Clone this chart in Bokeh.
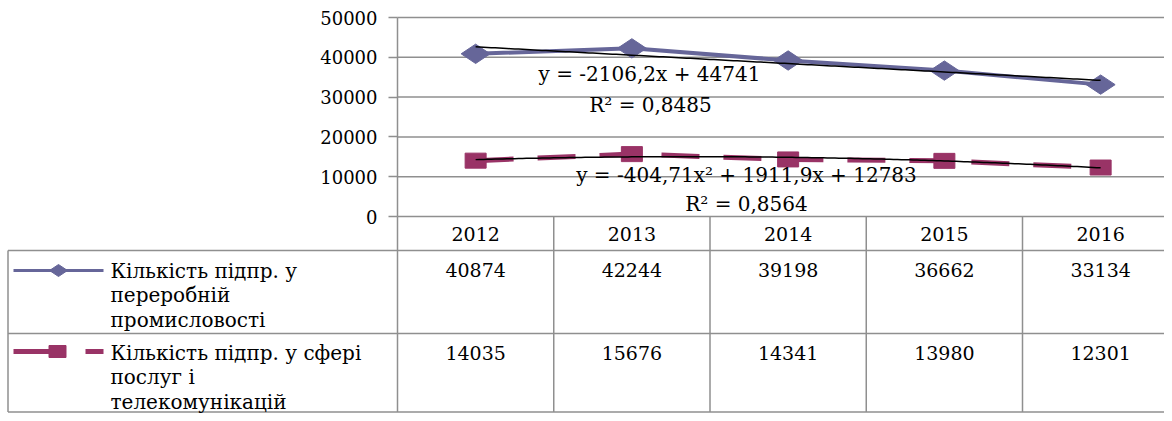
import numpy as np
from bokeh.plotting import figure
from bokeh.models import Range1d, LinearAxis, FixedTicker, NumeralTickFormatter
from bokeh.core.properties import value
from bokeh.embed import file_html
from bokeh.resources import INLINE

# ---------------- data ----------------
years = ["2012", "2013", "2014", "2015", "2016"]
manufacturing = [40874, 42244, 39198, 36662, 33134]
services = [14035, 15676, 14341, 13980, 12301]
series_labels = [
    "Кількість підпр. у\nпереробній\nпромисловості",
    "Кількість підпр. у сфері\nпослуг і\nтелекомунікацій",
]
y_ticks = [0, 10000, 20000, 30000, 40000, 50000]
linear_trend_coef = [-2106.2, 44741]          # y = a*x + b
poly_trend_coef = [-404.71, 1911.9, 12783]    # y = a*x^2 + b*x + c
eq_linear = "y = -2106,2x + 44741"
r2_linear = "R² = 0,8485"
eq_poly = "y = -404,71x² + 1911,9x + 12783"
r2_poly = "R² = 0,8564"

# ---------------- layout constants (image pixels) ----------------
W, H = 1164, 413
AX_PX = 397          # y axis position
COL_W = 156.25       # width of one category column
Y0_PX, Y50_PX = 216, 17
HDR_BOT, ROW1_BOT, TBL_BOT = 250, 333, 411.5
FONT = "DejaVu Serif"
BLUE = "#666699"
MAROON = "#993366"
GRID = "#8f8f8f"


def xd(px):
    return -0.5 + (px - AX_PX) / COL_W


upp = 50000 / (Y0_PX - Y50_PX)
x_range = Range1d(xd(0), xd(W))
y_range = Range1d(-(H - Y0_PX) * upp, 50000 + Y50_PX * upp)

p = figure(width=W, height=H, x_range=x_range, y_range=y_range,
           output_backend="svg", toolbar_location=None,
           x_axis_location=None, y_axis_location=None,
           min_border=0, outline_line_color=None)
p.extra_y_ranges = {"tbl": Range1d(H, 0)}
p.grid.visible = False

# y axis at the left edge of the plot area
yaxis = LinearAxis(fixed_location=-0.5, ticker=FixedTicker(ticks=y_ticks),
                   bounds=(0, 50000), formatter=NumeralTickFormatter(format="0"))
yaxis.axis_line_color = GRID
yaxis.axis_line_width = 1.5
yaxis.major_tick_line_color = GRID
yaxis.major_tick_line_width = 1.5
yaxis.major_tick_out = 9
yaxis.major_tick_in = 0
yaxis.minor_tick_out = 0
yaxis.minor_tick_in = 0
yaxis.major_label_text_font = FONT
yaxis.major_label_text_font_size = "18px"
yaxis.major_label_text_color = "black"
yaxis.major_label_standoff = 11
p.add_layout(yaxis, "left")

n = len(years)
xs = list(range(n))

# horizontal gridlines
p.segment(x0=[-0.5] * len(y_ticks), y0=y_ticks, x1=[n] * len(y_ticks), y1=y_ticks,
          line_color=GRID, line_width=1.5)

# series 1
p.line(xs, manufacturing, line_color=BLUE, line_width=4)
p.scatter(xs, manufacturing, marker="diamond", size=29, angle=np.pi / 2,
          fill_color=BLUE, line_color=BLUE)

# series 2
p.line(xs, services, line_color=MAROON, line_width=5, line_dash="38 24")
p.rect(xs, services, width=21, height=15, width_units="screen", height_units="screen",
       fill_color=MAROON, line_color=MAROON)

# trend lines (Excel x = 1..n)
xt = np.linspace(0, n - 1, 161)
ex = xt + 1
p.line(xt, np.polyval(linear_trend_coef, ex), line_color="black", line_width=1.5)
p.line(xt, np.polyval(poly_trend_coef, ex), line_color="black", line_width=1.5)

# trend equations
p.text(x=[xd(649), xd(650), xd(746), xd(746)], y=[73, 104, 174, 203],
       text=[eq_linear, r2_linear, eq_poly, r2_poly], y_range_name="tbl",
       text_align="center", text_baseline="middle",
       text_font=value(FONT), text_font_size="20px", text_color="black")

# ---------------- data table ----------------
vx = [k - 0.5 for k in range(n + 1)]
p.segment(x0=vx, y0=[Y0_PX] * len(vx), x1=vx, y1=[TBL_BOT] * len(vx),
          y_range_name="tbl", line_color=GRID, line_width=1.5)
hy = [HDR_BOT, ROW1_BOT, TBL_BOT]
p.segment(x0=[xd(7.5)] * 3, y0=hy, x1=[n] * 3, y1=hy,
          y_range_name="tbl", line_color=GRID, line_width=1.5)
p.segment(x0=[xd(7.5)], y0=[HDR_BOT], x1=[xd(7.5)], y1=[TBL_BOT],
          y_range_name="tbl", line_color=GRID, line_width=1.5)

# header years
p.text(x=xs, y=[233] * n, text=years, y_range_name="tbl",
       text_align="center", text_baseline="middle",
       text_font=value(FONT), text_font_size="19px", text_color="black")
# values
p.text(x=xs, y=[269] * n, text=[str(v) for v in manufacturing], y_range_name="tbl",
       text_align="center", text_baseline="middle",
       text_font=value(FONT), text_font_size="19px", text_color="black")
p.text(x=xs, y=[352] * n, text=[str(v) for v in services], y_range_name="tbl",
       text_align="center", text_baseline="middle",
       text_font=value(FONT), text_font_size="19px", text_color="black")

# legend keys
p.segment(x0=[xd(13)], y0=[270], x1=[xd(103)], y1=[270], y_range_name="tbl",
          line_color=BLUE, line_width=3)
p.scatter([xd(58)], [270], marker="diamond", size=18, angle=np.pi / 2,
          y_range_name="tbl", fill_color=BLUE, line_color=BLUE)
p.segment(x0=[xd(13), xd(85)], y0=[351, 351], x1=[xd(52), xd(103)], y1=[351, 351],
          y_range_name="tbl", line_color=MAROON, line_width=5)
p.rect([xd(57)], [351], width=17, height=12, width_units="screen", height_units="screen",
       y_range_name="tbl", fill_color=MAROON, line_color=MAROON)

# row labels
LINE_H = 24.5
for first_y, label in zip([270, 352], series_labels):
    lines = label.split("\n")
    p.text(x=[xd(110)] * len(lines), y=[first_y + k * LINE_H for k in range(len(lines))],
           text=lines, y_range_name="tbl", text_align="left", text_baseline="middle",
           text_font=value(FONT), text_font_size="20px", text_color="black")

open("out.html", "w").write(file_html(p, INLINE))
